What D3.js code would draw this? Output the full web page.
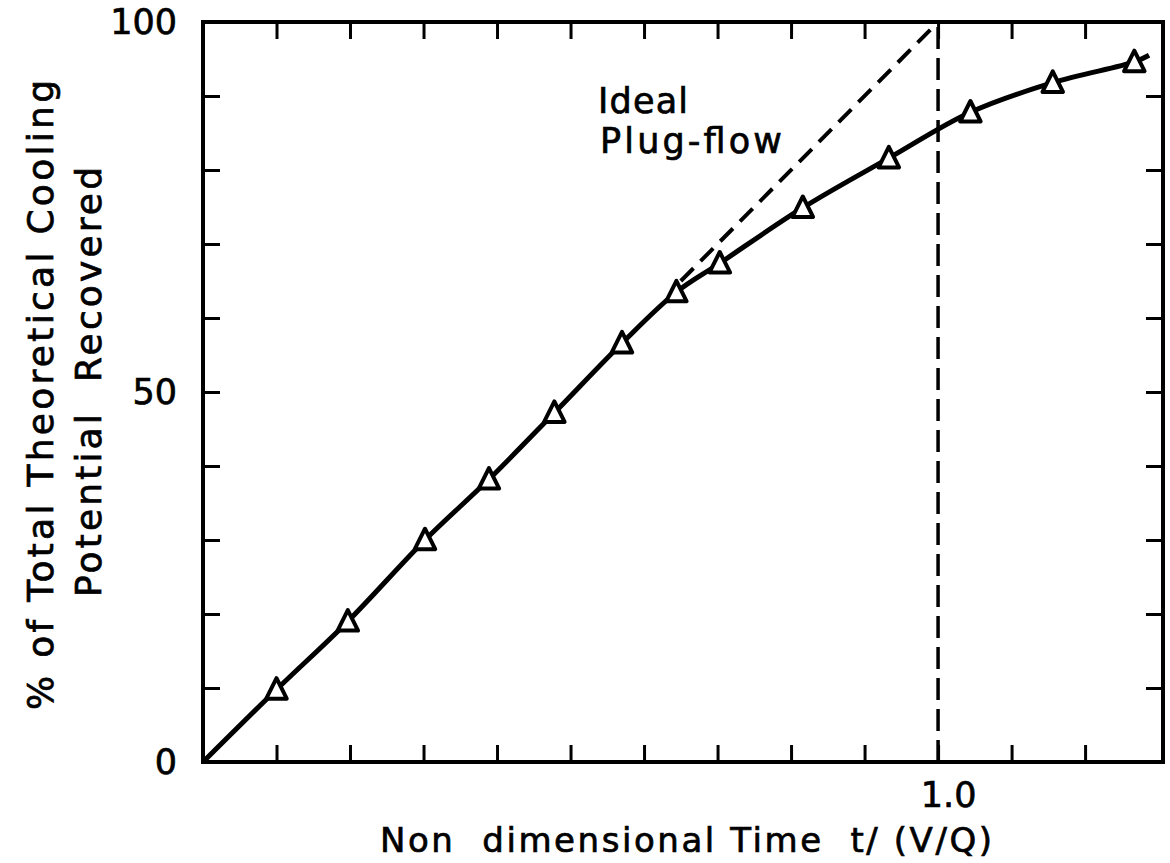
<!DOCTYPE html>
<html lang="en">
<head>
<meta charset="UTF-8">
<title>Cooling Potential Recovered</title>
<style>
    body { margin: 0; background: #fff; }
    svg { display: block; font-family: "DejaVu Sans", sans-serif; }
    .frame { fill: none; stroke: #000; stroke-width: 4; }
    .tick line { stroke: #000; stroke-width: 3; }
    .domain { display: none; }
    .tick text { font-size: 35px; fill: #000; stroke: #000; stroke-width: 0.7; font-family: "DejaVu Sans", sans-serif; }
    .label { font-size: 34px; fill: #000; stroke: #000; stroke-width: 0.7; white-space: pre; }
</style>
</head>
<body>
<svg id="chart" width="1170" height="863"></svg>
<script src="https://d3js.org/d3.v7.min.js"></script>
<script>
const timeValues = [0.10, 0.197, 0.302, 0.389, 0.478, 0.570, 0.644, 0.703, 0.816, 0.933, 1.044, 1.156, 1.267];
const recoveredValues = [9.8, 19.0, 30.0, 38.2, 47.2, 56.6, 63.5, 67.4, 74.9, 81.6, 87.8, 91.8, 94.6];
// the drawn curve starts at the origin and runs a little past the last point
const curveStart = [0, 0];
const curveEnd = [1.287, 95.5];
// ideal plug-flow line (dashed)
const idealTime = [0.65, 1.0];
const idealRecovered = [65, 100];
// ticks and labels
const xTickValues = [0.1, 0.2, 0.3, 0.4, 0.5, 0.6, 0.7, 0.8, 0.9, 1.0, 1.1, 1.2];
const yTickValues = [0, 10, 20, 30, 40, 50, 60, 70, 80, 90, 100];
const xLabelValues = [1.0];
const yLabelValues = [0, 50, 100];

const svg = d3.select("#chart");
const plotLeft = 203, plotRight = 1163, plotTop = 22, plotBottom = 762;

const x = d3.scaleLinear().domain([0, 1.306]).range([plotLeft, plotRight]);
const y = d3.scaleLinear().domain([0, 100]).range([plotBottom, plotTop]);

// inward ticks on all four sides
svg.append("g")
    .attr("transform", `translate(0,${plotBottom})`)
    .call(d3.axisBottom(x).tickValues(xTickValues).tickSize(-17).tickPadding(20)
        .tickFormat(d => xLabelValues.includes(d) ? d3.format(".1f")(d) : ""))
    .selectAll("text").attr("dx", 10);
svg.append("g")
    .attr("transform", `translate(0,${plotTop})`)
    .call(d3.axisTop(x).tickValues(xTickValues).tickSize(-17).tickFormat(""));
svg.append("g")
    .attr("transform", `translate(${plotLeft},0)`)
    .call(d3.axisLeft(y).tickValues(yTickValues).tickSize(-17).tickPadding(26)
        .tickFormat(d => yLabelValues.includes(d) ? d : ""));
svg.append("g")
    .attr("transform", `translate(${plotRight},0)`)
    .call(d3.axisRight(y).tickValues(yTickValues).tickSize(-17).tickFormat(""));

svg.append("rect").attr("class", "frame")
    .attr("x", plotLeft).attr("y", plotTop)
    .attr("width", plotRight - plotLeft).attr("height", plotBottom - plotTop);

// vertical dashed line at t = 1.0
svg.append("line")
    .attr("x1", x(1)).attr("x2", x(1))
    .attr("y1", y(0)).attr("y2", y(100))
    .attr("stroke", "#000").attr("stroke-width", 3.5)
    .attr("stroke-dasharray", "22,9");

// ideal plug-flow
const idealPts = idealTime.map((t, i) => [t, idealRecovered[i]]);
svg.append("path")
    .datum(idealPts)
    .attr("fill", "none").attr("stroke", "#000").attr("stroke-width", 4)
    .attr("stroke-dasharray", "18,10")
    .attr("d", d3.line().x(d => x(d[0])).y(d => y(d[1])));

// measured curve
const pts = timeValues.map((t, i) => [t, recoveredValues[i]]);
const curvePts = [curveStart, ...pts, curveEnd];
svg.append("path")
    .datum(curvePts)
    .attr("fill", "none").attr("stroke", "#000").attr("stroke-width", 5)
    .attr("d", d3.line().curve(d3.curveCatmullRom).x(d => x(d[0])).y(d => y(d[1])));

// open triangles, a bit taller than equilateral like the hand-drawn ones
const tallTriangle = {
    draw(context, size) {
        const h = Math.sqrt(size);
        context.moveTo(0, -h * 0.55);
        context.lineTo(h * 0.5, h * 0.45);
        context.lineTo(-h * 0.5, h * 0.45);
        context.closePath();
    }
};
svg.append("g")
    .selectAll("path")
    .data(pts)
    .join("path")
    .attr("transform", d => `translate(${x(d[0])},${y(d[1])})`)
    .attr("d", d3.symbol(tallTriangle, 420))
    .attr("fill", "#fff").attr("stroke", "#000").attr("stroke-width", 4)
    .attr("stroke-linejoin", "round");

// annotation
svg.append("text").attr("class", "label")
    .attr("x", 598).attr("y", 113).attr("textLength", 90)
    .style("font-size", "35px").text("Ideal");
svg.append("text").attr("class", "label")
    .attr("x", 600).attr("y", 153).attr("textLength", 182)
    .style("font-size", "35px").text("Plug-flow");

// axis titles
svg.append("text").attr("class", "label")
    .attr("x", 380).attr("y", 852).attr("textLength", 612)
    .text("Non  dimensional Time  t/ (V/Q)");

svg.append("text").attr("class", "label")
    .style("font-size", "36px")
    .attr("transform", "translate(53,395) rotate(-90)")
    .attr("text-anchor", "middle").attr("textLength", 630)
    .text("% of Total Theoretical Cooling");
svg.append("text").attr("class", "label")
    .style("font-size", "36px")
    .attr("transform", "translate(101,382) rotate(-90)")
    .attr("text-anchor", "middle").attr("textLength", 430)
    .text("Potential  Recovered");
</script>
</body>
</html>
